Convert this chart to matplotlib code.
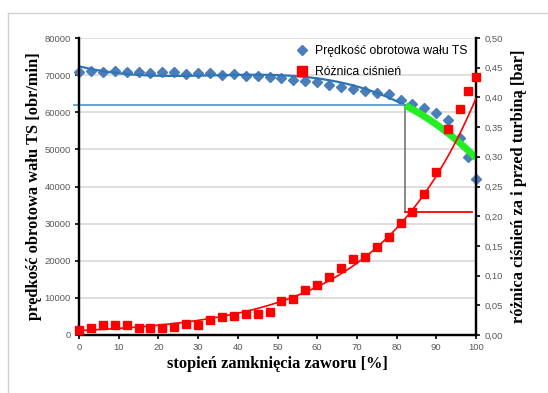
import numpy as np
import matplotlib
matplotlib.use("Agg")
import matplotlib.pyplot as plt
from matplotlib.lines import Line2D

# ---- data ----
closure = [0, 3, 6, 9, 12, 15, 18, 21, 24, 27, 30, 33, 36, 39, 42, 45, 48, 51, 54,
           57, 60, 63, 66, 69, 72, 75, 78, 81, 84, 87, 90, 93, 96, 98, 100]
speed = [70800, 71080, 70730, 71080, 70890, 70730, 70620, 70810, 70730, 70270,
         70460, 70460, 70000, 70270, 69810, 69810, 69540, 69110, 68570, 68460,
         68190, 67220, 66770, 66230, 65690, 65230, 64880, 63260, 62180, 61020,
         59800, 57780, 52940, 47980, 42000]
dp = [0.009, 0.012, 0.016, 0.016, 0.016, 0.012, 0.012, 0.012, 0.0135, 0.018,
      0.016, 0.026, 0.030, 0.0325, 0.035, 0.036, 0.039, 0.058, 0.061, 0.075,
      0.085, 0.097, 0.112, 0.128, 0.132, 0.1475, 0.165, 0.189, 0.207, 0.238,
      0.274, 0.347, 0.3805, 0.411, 0.435]

left_ticks = [0, 10000, 20000, 30000, 40000, 50000, 60000, 70000, 80000]
right_ticks = [0.0, 0.05, 0.10, 0.15, 0.20, 0.25, 0.30, 0.35, 0.40, 0.45, 0.50]
x_ticks = [0, 10, 20, 30, 40, 50, 60, 70, 80, 90, 100]

threshold_x = 82
dp_level = 0.207
speed_deg = 3   # polynomial trend line for speed; exponential trend for pressure diff.

# ---- figure ----
fig = plt.figure(figsize=(5.48, 3.93), dpi=100)
ax = fig.add_axes([79/548, 1-335/393, 397/548, 297/393])
ax2 = ax.twinx()

x = np.array(closure, float)
xs = np.linspace(0, 100, 400)
sp_coef = np.polyfit(x, speed, speed_deg)
sp_fit = np.polyval(sp_coef, xs)
b, ln_a = np.polyfit(x, np.log(dp), 1)
dp_fit = np.exp(ln_a + b * xs)
speed_level = np.polyval(sp_coef, threshold_x)

ax.set_xlim(0, 100)
ax.set_ylim(0, 80000)
ax2.set_ylim(0, 0.5)
ax.set_yticks(left_ticks)
ax.set_yticklabels([str(t) for t in left_ticks])
ax2.set_yticks(right_ticks)
ax2.set_yticklabels([f"{t:.2f}".replace('.', ',') for t in right_ticks])
ax.set_xticks(x_ticks)

ax.grid(axis='y', color='#d9d9d9', lw=1.2)
ax.set_axisbelow(True)

blue = '#4a7ebb'
ax.plot(x, speed, 'D', color=blue, ms=5, mec=blue, zorder=3, clip_on=False)
ax.plot(xs, sp_fit, color='#2e75b6', lw=1.6, zorder=4)
mask = xs >= threshold_x
ax.plot(xs[mask], sp_fit[mask], color='#22ee22', lw=5, zorder=5, solid_capstyle='butt')
ax.plot([-1.2, threshold_x], [speed_level, speed_level], color='#5b9bd5', lw=1.3,
        zorder=4, clip_on=False)
ax.plot([threshold_x, threshold_x], [speed_level, dp_level*160000], color='#7f7f7f',
        lw=1.3, zorder=4)

ax2.plot(x, dp, 's', color='#ff0000', ms=6, zorder=3, clip_on=False)
ax2.plot(xs, dp_fit, color='#ff0000', lw=1.2, zorder=4)
ax2.plot([threshold_x, 99], [dp_level, dp_level], color='#ff0000', lw=1.3, zorder=4)

for a in (ax, ax2):
    a.spines['top'].set_visible(False)
    for s in ('left', 'right', 'bottom'):
        a.spines[s].set_linewidth(1.6)
        a.spines[s].set_color('black')
    a.tick_params(length=3, width=1.2, color='black', labelsize=6.8,
                  labelcolor='#595959', pad=3)
    for lab in a.get_xticklabels() + a.get_yticklabels():
        lab.set_family('Liberation Sans')

serif = dict(family='Liberation Serif', weight='bold', size=11.8)
ax.set_xlabel('stopień zamknięcia zaworu [%]', fontdict=serif, labelpad=3)
ax.set_ylabel('prędkość obrotowa wału TS [obr/min]', fontdict=serif, labelpad=2)
ax2.set_ylabel('różnica ciśnień za i przed turbiną [bar]', fontdict=serif, labelpad=6)

handles = [Line2D([], [], ls='none', marker='D', color=blue, ms=5),
           Line2D([], [], ls='none', marker='s', color='#ff0000', ms=7)]
ax2.legend(handles, ['Prędkość obrotowa wału TS', 'Różnica ciśnień'],
           loc='upper left', bbox_to_anchor=(0.525, 1.0), frameon=False,
           prop=dict(family='Liberation Sans', size=8.8), handlelength=1.2,
           handletextpad=0.45, labelspacing=0.7, borderaxespad=0.2)

# outer border (left and top)
fig.add_artist(Line2D([8/548, 8/548], [0, 1-13/393], color='#d0d0d0', lw=1))
fig.add_artist(Line2D([8/548, 1], [1-13/393, 1-13/393], color='#d0d0d0', lw=1))

fig.savefig('out.png', dpi=100)
